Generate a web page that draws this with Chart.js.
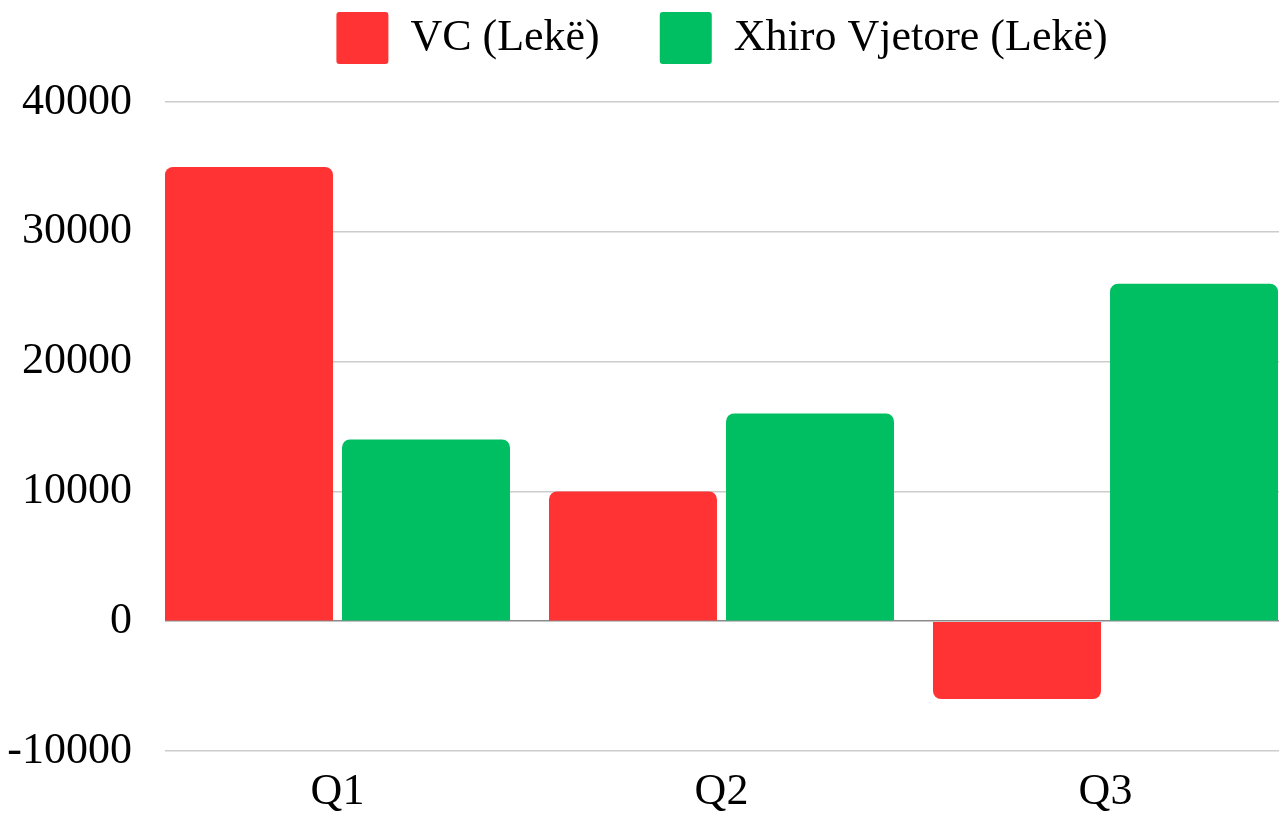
<!DOCTYPE html>
<html>
<head>
<meta charset="utf-8">
<script src="https://cdn.jsdelivr.net/npm/chart.js@4/dist/chart.umd.min.js"></script>
<style>
  html, body { margin: 0; padding: 0; background: #ffffff; overflow: hidden; }
  #wrap { width: 1279px; height: 819px; position: relative; }
</style>
</head>
<body>
<div id="wrap"><canvas id="c"></canvas></div>
<script>
const quarters = ['Q1', 'Q2', 'Q3'];
const seriesNames = ['VC (Lekë)', 'Xhiro Vjetore (Lekë)'];
const vcValues = [35000, 10000, -6000];
const xhiroValues = [14000, 16000, 26000];
const yTicks = [-10000, 0, 10000, 20000, 30000, 40000];

const FONT = "'Liberation Serif', 'Times New Roman', serif";

const toPoints = (vals) => vals.map((v, i) => ({ x: i, y: v }));

new Chart(document.getElementById('c'), {
  type: 'bar',
  data: {
    datasets: [
      {
        label: seriesNames[0],
        data: toPoints(vcValues),
        backgroundColor: '#FF3333',
        borderWidth: 0,
        borderRadius: 8,
        categoryPercentage: 0.922,
        barPercentage: 0.949
      },
      {
        label: seriesNames[1],
        data: toPoints(xhiroValues),
        backgroundColor: '#00BF63',
        borderWidth: 0,
        borderRadius: 8,
        categoryPercentage: 0.922,
        barPercentage: 0.949
      }
    ]
  },
  options: {
    responsive: true,
    maintainAspectRatio: false,
    animation: false,
    layout: { padding: { top: -48, left: 0, right: 0, bottom: 0 } },
    plugins: {
      tooltip: { enabled: false },
      legend: {
        position: 'top',
        fullSize: false,
        labels: {
          boxWidth: 52,
          boxHeight: 52,
          padding: 60,
          color: '#000000',
          useBorderRadius: true,
          borderRadius: 3,
          font: { family: FONT, size: 44 }
        }
      }
    },
    scales: {
      x: {
        type: 'linear',
        position: 'bottom',
        offset: false,
        min: -0.4492,
        max: 2.4518,
        afterBuildTicks: (s) => { s.ticks = quarters.map((q, i) => ({ value: i })); },
        afterFit: (s) => { s.height = 68; },
        ticks: {
          color: '#000000',
          padding: 15,
          maxRotation: 0,
          autoSkip: false,
          font: { family: FONT, size: 44 },
          callback: (v) => quarters[v]
        },
        grid: { display: false, drawTicks: false, offset: false },
        border: { display: false }
      },
      spacer: {
        type: 'linear',
        position: 'top',
        display: true,
        ticks: { display: false },
        grid: { display: false, drawTicks: false },
        border: { display: false },
        afterFit: (s) => { s.height = 28; }
      },
      y: {
        min: -10000,
        max: 40000,
        afterBuildTicks: (s) => { s.ticks = yTicks.map(v => ({ value: v })); },
        afterFit: (s) => { s.width = 165; },
        ticks: {
          color: '#000000',
          padding: 33,
          font: { family: FONT, size: 44 },
          callback: (v) => String(v)
        },
        grid: {
          drawTicks: false,
          color: (ctx) => (ctx.tick && ctx.tick.value === 0) ? '#8a8a8a' : '#cccccc',
          lineWidth: 1.5
        },
        border: { display: false }
      }
    }
  }
});
</script>
</body>
</html>
